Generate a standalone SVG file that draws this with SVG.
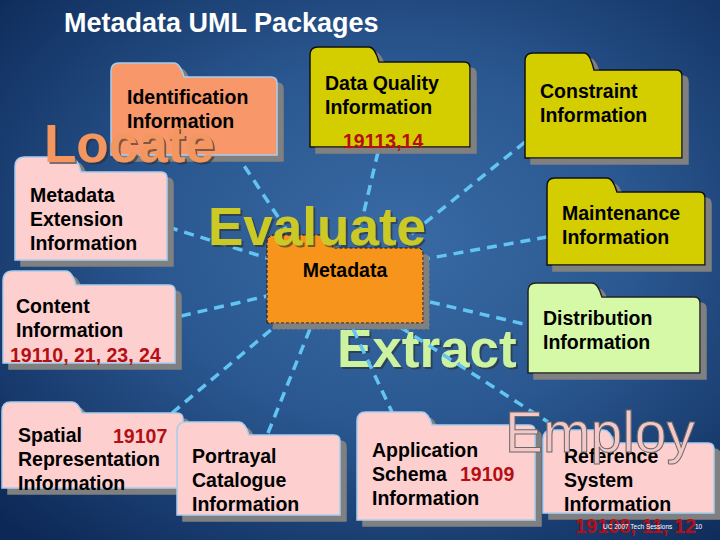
<svg xmlns="http://www.w3.org/2000/svg" width="720" height="540" viewBox="0 0 720 540">
<defs>
<radialGradient id="bg" cx="55%" cy="45%" r="75%">
<stop offset="0" stop-color="#3a6ba4"/>
<stop offset="0.45" stop-color="#2a5790"/>
<stop offset="1" stop-color="#0c2856"/>
</radialGradient>
<filter id="sh" x="-5%" y="-5%" width="120%" height="130%">
<feOffset in="SourceAlpha" dx="6" dy="6" result="o"/>
<feFlood flood-color="#808080"/>
<feComposite in2="o" operator="in" result="s"/>
<feMerge><feMergeNode in="s"/><feMergeNode in="SourceGraphic"/></feMerge>
</filter>
<filter id="tsh" x="-5%" y="-10%" width="115%" height="130%">
<feOffset in="SourceAlpha" dx="2" dy="2" result="o"/>
<feFlood flood-color="#2a2a2a" flood-opacity="0.6"/>
<feComposite in2="o" operator="in" result="s"/>
<feMerge><feMergeNode in="s"/><feMergeNode in="SourceGraphic"/></feMerge>
</filter>
<style>
text{font-family:"Liberation Sans",Arial,sans-serif;font-weight:bold}
.lbl{font-size:19.5px;fill:#000}
.num{font-size:19.5px;fill:#b40f14}
.pink{fill:#fdcfcf;stroke:#a9cdee;stroke-width:1.5;filter:url(#sh)}
.salmon{fill:#f8976b;stroke:#a9cdee;stroke-width:1.5;filter:url(#sh)}
.yellow{fill:#d4ce04;stroke:#111;stroke-width:1.5;filter:url(#sh)}
.green{fill:#d5f9a7;stroke:#222;stroke-width:1.5;filter:url(#sh)}
.center{fill:#f7941d;stroke:#111;stroke-width:1;stroke-dasharray:3 2;filter:url(#sh)}
.big{font-size:53px;filter:url(#tsh)}
#connectors line{stroke:#62c4f2;stroke-width:3.5;stroke-dasharray:10 7;fill:none}
</style>
</defs>
<rect width="720" height="540" fill="url(#bg)"/>
<text x="64" y="32" style="font-size:27px;fill:#fff">Metadata UML Packages</text>
<text id="w-extract" class="big" x="337" y="367" style="fill:#cdf3a0">Extract</text>
<g id="connectors">
<line x1="235" y1="152" x2="300" y2="250"/>
<line x1="378" y1="152" x2="355" y2="250"/>
<line x1="525" y1="142" x2="410" y2="235"/>
<line x1="547" y1="237" x2="425" y2="259"/>
<line x1="430" y1="302" x2="528" y2="325"/>
<line x1="168" y1="227" x2="267" y2="258"/>
<line x1="181" y1="316" x2="267" y2="296"/>
<line x1="172" y1="413" x2="272" y2="329"/>
<line x1="268" y1="433" x2="310" y2="329"/>
<line x1="353" y1="329" x2="392" y2="412"/>
<line x1="400" y1="327" x2="548" y2="422"/>
</g>
<g id="n-metadata">
<path class="center" d="M267,323 V243 Q267,235 275,235 H324 Q330,235 333,248 H417 Q423,248 423,254 V323 Z"/>
<text class="lbl" x="345" y="277" text-anchor="middle">Metadata</text>
</g>
<g id="n-identification">
<path class="salmon" d="M111,155 V71 Q111,63 119,63 H174 Q180,63 184,77 H271 Q277,77 277,83 V155 Z"/>
<text class="lbl" x="127" y="104">Identification</text>
<text class="lbl" x="127" y="128">Information</text>
</g>
<g id="n-dataquality">
<path class="yellow" d="M310,147 V55 Q310,47 318,47 H369 Q375,47 379,62 H464 Q470,62 470,68 V147 Z"/>
<text class="lbl" x="325" y="90">Data Quality</text>
<text class="lbl" x="325" y="114">Information</text>
<text class="num" x="343" y="148">19113,14</text>
</g>
<g id="n-constraint">
<path class="yellow" d="M525,158 V61 Q525,53 533,53 H584 Q590,53 594,70 H676 Q682,70 682,76 V158 Z"/>
<text class="lbl" x="540" y="98">Constraint</text>
<text class="lbl" x="540" y="122">Information</text>
</g>
<g id="n-maintenance">
<path class="yellow" d="M547,265 V186 Q547,178 555,178 H607 Q613,178 617,192 H699 Q705,192 705,198 V265 Z"/>
<text class="lbl" x="562" y="220">Maintenance</text>
<text class="lbl" x="562" y="244">Information</text>
</g>
<g id="n-distribution">
<path class="green" d="M528,373 V291 Q528,283 536,283 H592 Q598,283 602,297 H694 Q700,297 700,303 V373 Z"/>
<text class="lbl" x="543" y="325">Distribution</text>
<text class="lbl" x="543" y="349">Information</text>
</g>
<g id="n-extension">
<path class="pink" d="M15,260 V167 Q15,157 25,157 H71 Q77,157 81,172 H161 Q167,172 167,178 V260 Z"/>
<text class="lbl" x="30" y="202">Metadata</text>
<text class="lbl" x="30" y="226">Extension</text>
<text class="lbl" x="30" y="250">Information</text>
</g>
<g id="n-content">
<path class="pink" d="M3,363 V281 Q3,271 13,271 H66 Q72,271 76,285 H169 Q175,285 175,291 V363 Z"/>
<text class="lbl" x="16" y="313">Content</text>
<text class="lbl" x="16" y="337">Information</text>
<text class="num" x="10" y="362">19110, 21, 23, 24</text>
</g>
<g id="n-spatial">
<path class="pink" d="M2,488 V411 Q2,402 11,402 H72 Q78,402 82,413 H177 Q183,413 183,419 V488 Z"/>
<text class="lbl" x="18" y="442">Spatial</text>
<text class="num" x="113" y="443">19107</text>
<text class="lbl" x="18" y="466">Representation</text>
<text class="lbl" x="18" y="490">Information</text>
</g>
<g id="n-portrayal">
<path class="pink" d="M177,515 V431 Q177,422 186,422 H239 Q245,422 249,435 H334 Q340,435 340,441 V515 Z"/>
<text class="lbl" x="192" y="463">Portrayal</text>
<text class="lbl" x="192" y="487">Catalogue</text>
<text class="lbl" x="192" y="511">Information</text>
</g>
<g id="n-application">
<path class="pink" d="M357,520 V421 Q357,412 366,412 H422 Q428,412 432,425 H529 Q535,425 535,431 V520 Z"/>
<text class="lbl" x="372" y="457">Application</text>
<text class="lbl" x="372" y="481">Schema</text>
<text class="num" x="460" y="481">19109</text>
<text class="lbl" x="372" y="505">Information</text>
</g>
<g id="n-reference">
<path class="pink" d="M543,513 V439 Q543,430 552,430 H604 Q610,430 614,443 H708 Q714,443 714,449 V513 Z"/>
<text class="lbl" x="564" y="463">Reference</text>
<text class="lbl" x="564" y="487">System</text>
<text class="lbl" x="564" y="511">Information</text>
<text style="font-size:20px;fill:#b40f14" x="575" y="533">19108, 11, 12</text>
</g>
<text id="w-locate" class="big" x="44" y="162" style="fill:#f4965e">Locate</text>
<text id="w-evaluate" class="big" x="208" y="245" style="fill:#cbc928">Evaluate</text>
<text id="w-employ" x="505" y="452" style="font-size:57px;font-weight:normal;fill:#f4c8c8;stroke:#6a6a6a;stroke-width:1">Employ</text>
<text x="603" y="529" style="font-size:6.5px;font-weight:normal;fill:#fff">UC 2007 Tech Sessions</text>
<text x="695" y="529" style="font-size:6.5px;font-weight:normal;fill:#fff">10</text>
</svg>
